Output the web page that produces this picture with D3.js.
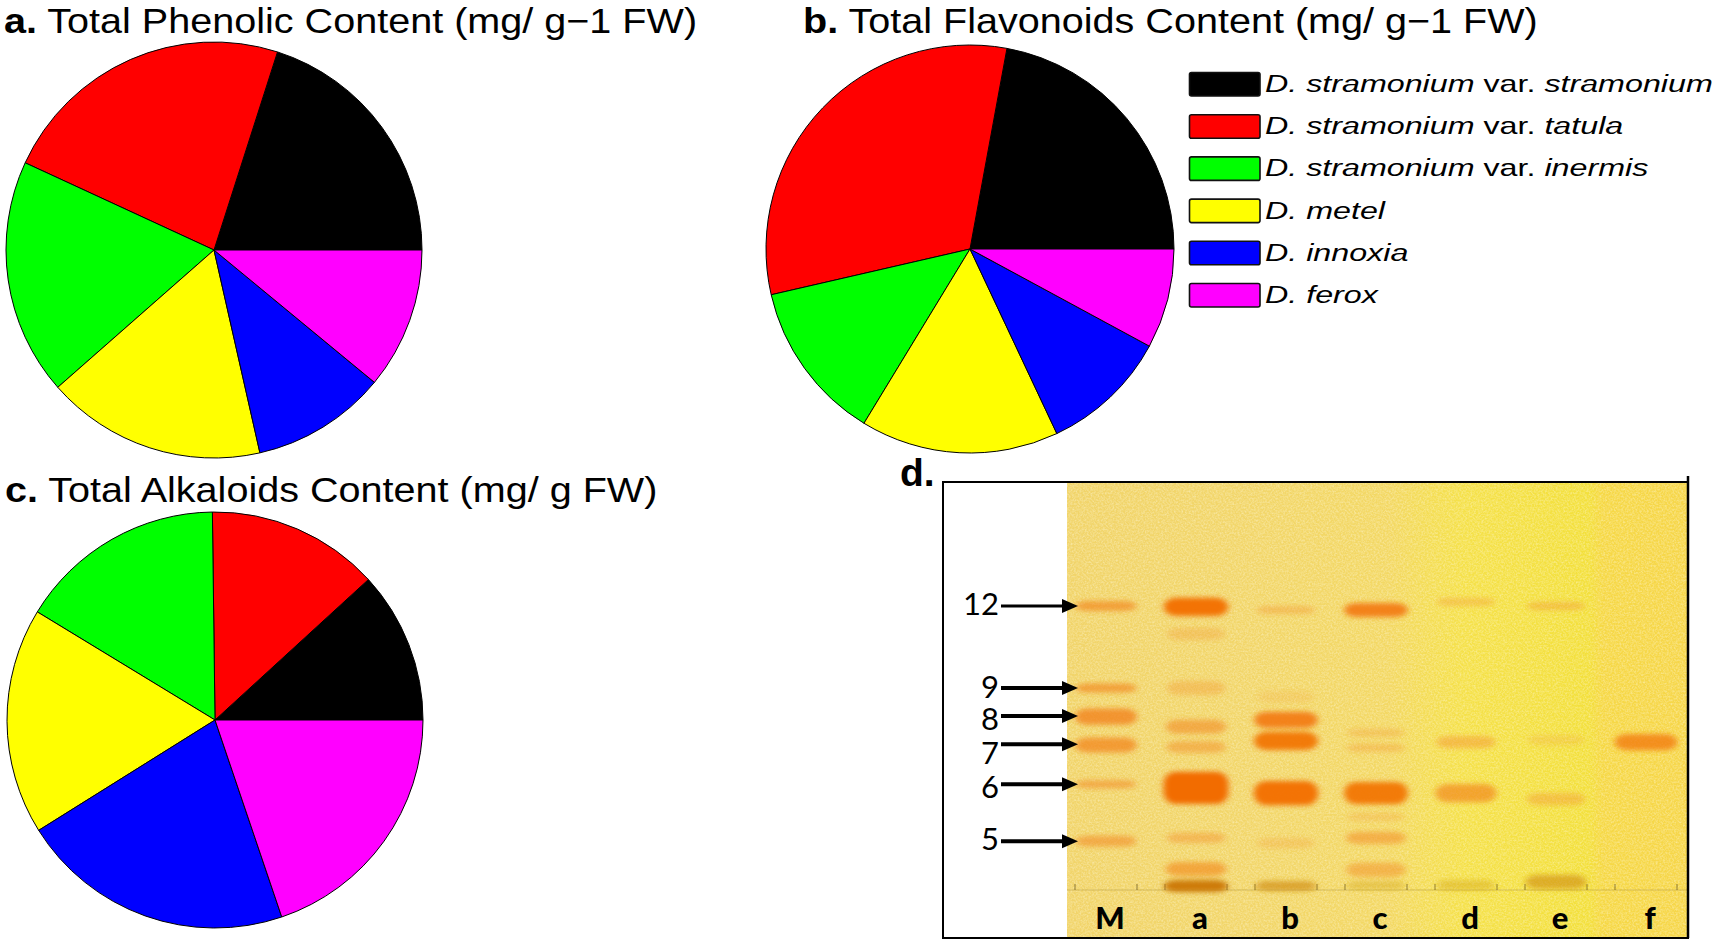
<!DOCTYPE html>
<html>
<head>
<meta charset="utf-8">
<script src="https://cdn.jsdelivr.net/npm/d3@7"></script>
<style>
  body { margin: 0; background: #fff; }
  svg { display: block; }
</style>
</head>
<body>
<div id="chart"></div>
<script>
// Species (legend order = slice order)
const species = [
  "D. stramonium var. stramonium",
  "D. stramonium var. tatula",
  "D. stramonium var. inermis",
  "D. metel",
  "D. innoxia",
  "D. ferox"
];
const sliceColors = ["#000000", "#ff0000", "#00ff00", "#ffff00", "#0000ff", "#ff00ff"];

// Share of each species in the pie (%)
const phenolicShare  = [20.1, 23.1, 18.4, 17.1, 10.5, 11.0];
const flavonoidShare = [22.1, 31.5, 12.7, 15.7, 10.1, 7.9];
const alkaloidShare  = [11.8, 13.4, 16.1, 17.6, 21.3, 19.8];

// TLC plate (panel d)
const lanes = ["M", "a", "b", "c", "d", "e", "f"];
const markerLabels = ["12", "9", "8", "7", "6", "5"];
const markerRf = [0.698, 0.495, 0.426, 0.356, 0.257, 0.116];

// bands per lane: [Rf, strength 0-1, spread in Rf]
const bandsM = [[0.698, 0.6, 0.025], [0.495, 0.6, 0.022], [0.424, 0.7, 0.04], [0.354, 0.65, 0.037], [0.257, 0.5, 0.02], [0.116, 0.5, 0.027]];
const bandsA = [[0.696, 0.95, 0.045], [0.629, 0.2, 0.03], [0.495, 0.25, 0.035], [0.399, 0.5, 0.035], [0.349, 0.4, 0.03], [0.248, 1.0, 0.08], [0.124, 0.35, 0.025], [0.047, 0.55, 0.035], [0.005, 0.9, 0.03]];
const bandsB = [[0.688, 0.3, 0.02], [0.473, 0.05, 0.03], [0.416, 0.85, 0.04], [0.364, 0.9, 0.045], [0.235, 0.95, 0.06], [0.111, 0.15, 0.025], [0.005, 0.6, 0.025]];
const bandsC = [[0.688, 0.85, 0.035], [0.384, 0.2, 0.02], [0.347, 0.25, 0.02], [0.235, 0.9, 0.055], [0.176, 0.15, 0.02], [0.124, 0.45, 0.03], [0.045, 0.4, 0.035], [0.007, 0.3, 0.02]];
const bandsD = [[0.708, 0.25, 0.02], [0.361, 0.35, 0.03], [0.235, 0.6, 0.045], [0.007, 0.3, 0.025]];
const bandsE = [[0.698, 0.3, 0.02], [0.366, 0.08, 0.025], [0.220, 0.3, 0.03], [0.015, 0.55, 0.035]];
const bandsF = [[0.361, 0.75, 0.04]];

const W = 1713, H = 950;
const sans = "'Liberation Sans', Arial, sans-serif";
const calib = "Lato, 'Open Sans', sans-serif";

const svg = d3.select("#chart")
  .append("svg")
    .attr("width", W)
    .attr("height", H);

const defs = svg.append("defs");

const color = d3.scaleOrdinal()
  .domain(species)
  .range(sliceColors);

// pies start at 3 o'clock and run counter-clockwise
const pie = d3.pie()
  .sort(null)
  .value(d => d)
  .startAngle(Math.PI / 2)
  .endAngle(Math.PI / 2 - 2 * Math.PI);

function drawPie(values, cx, cy, r) {
  const arc = d3.arc().innerRadius(0).outerRadius(r);
  svg.append("g")
      .attr("transform", `translate(${cx},${cy})`)
    .selectAll("path")
    .data(pie(values))
    .enter().append("path")
      .attr("d", arc)
      .attr("fill", (d, i) => color(species[i]))
      .attr("stroke", "#000")
      .attr("stroke-width", 1)
      .attr("stroke-linejoin", "round");
}

// the panel titles are slightly stretched sideways in the original figure
function drawTitle(x, y, tag, rest) {
  const t = svg.append("g")
      .attr("transform", `translate(${x},${y}) scale(1.115,1)`)
    .append("text")
      .style("font-family", sans)
      .style("font-size", "35.5px")
      .attr("fill", "#000");
  t.append("tspan").style("font-weight", "bold").text(tag);
  t.append("tspan").text(" " + rest);
}

drawTitle(4, 32.5, "a.", "Total Phenolic Content (mg/ g\u22121 FW)");
drawTitle(803, 32.5, "b.", "Total Flavonoids Content (mg/ g\u22121 FW)");
drawTitle(5, 502, "c.", "Total Alkaloids Content (mg/ g FW)");

drawPie(phenolicShare, 214, 250, 208);
drawPie(flavonoidShare, 970, 249, 204);
drawPie(alkaloidShare, 215, 720, 208);

// Legend
const legend = svg.append("g");
const rowStep = 42.2;
species.forEach((name, i) => {
  const cy = 84 + i * rowStep;
  legend.append("rect")
    .attr("x", 1189.5)
    .attr("y", cy - 11.5)
    .attr("width", 70.5)
    .attr("height", 23.5)
    .attr("rx", 2)
    .attr("fill", color(name))
    .attr("stroke", "#111")
    .attr("stroke-width", 1.6);

  const parts = name.split(" var. ");
  const g = legend.append("g")
    .attr("transform", `translate(1265,${cy + 8}) scale(1.3,1)`);
  const t = g.append("text")
    .style("font-family", sans)
    .style("font-size", "24.8px")
    .attr("fill", "#000");
  t.append("tspan").style("font-style", "italic").text(parts[0]);
  if (parts.length > 1) {
    t.append("tspan").text(" var. ");
    t.append("tspan").style("font-style", "italic").text(parts[1]);
  }
});

// ---- Panel d: TLC plate ----
const plate = { x0: 1067, x1: 1687, y0: 483, y1: 937 };
const yRf = d3.scaleLinear().domain([0, 1]).range([888, 484]);
const xLane = d3.scalePoint().domain(lanes).range([1106, 1646]);

const grad = defs.append("linearGradient")
  .attr("id", "plateGrad")
  .attr("gradientUnits", "userSpaceOnUse")
  .attr("x1", plate.x0).attr("x2", plate.x1)
  .attr("y1", 0).attr("y2", 0);
[[0, "#f1d46a"], [0.3, "#f2d66a"], [0.52, "#f3d864"], [0.58, "#f4dd56"],
 [0.64, "#f5e14a"], [0.84, "#f3e03c"], [0.865, "#f6d846"], [1, "#f6d64a"]]
  .forEach(s => grad.append("stop").attr("offset", s[0]).attr("stop-color", s[1]));

const grain = defs.append("filter")
  .attr("id", "grain")
  .attr("x", 0).attr("y", 0).attr("width", 1).attr("height", 1);
grain.append("feTurbulence")
  .attr("type", "fractalNoise")
  .attr("baseFrequency", 0.55)
  .attr("numOctaves", 2)
  .attr("seed", 7);
grain.append("feColorMatrix")
  .attr("type", "matrix")
  .attr("values", "0 0 0 0 1  0 0 0 0 0.95  0 0 0 0 0.7  0.9 0 0 0 -0.32");

const blur = defs.append("filter")
  .attr("id", "bandBlur")
  .attr("x", "-50%").attr("y", "-150%")
  .attr("width", "200%").attr("height", "400%");
blur.append("feGaussianBlur").attr("stdDeviation", "3.4 2.8");

svg.append("rect")
  .attr("x", plate.x0).attr("y", plate.y0)
  .attr("width", plate.x1 - plate.x0).attr("height", plate.y1 - plate.y0)
  .attr("fill", "url(#plateGrad)");
svg.append("rect")
  .attr("x", plate.x0).attr("y", plate.y0)
  .attr("width", plate.x1 - plate.x0).attr("height", plate.y1 - plate.y0)
  .attr("fill", "#fff")
  .attr("filter", "url(#grain)");

// origin line and spotting marks
svg.append("line")
  .attr("x1", plate.x0).attr("x2", plate.x1)
  .attr("y1", yRf(0) + 2).attr("y2", yRf(0) + 2)
  .attr("stroke", "#b49a40").attr("stroke-opacity", 0.35).attr("stroke-width", 1.5);

const markG = svg.append("g");
lanes.forEach(l => {
  [-31, 31].forEach(dx => {
    markG.append("line")
      .attr("x1", xLane(l) + dx).attr("x2", xLane(l) + dx)
      .attr("y1", yRf(0) - 4).attr("y2", yRf(0) + 2)
      .attr("stroke", "#6b5a20").attr("stroke-opacity", 0.5).attr("stroke-width", 1.5);
  });
});

const allBands = [];
[bandsM, bandsA, bandsB, bandsC, bandsD, bandsE, bandsF].forEach((arr, li) => {
  arr.forEach(b => allBands.push({ lane: lanes[li], rf: b[0], s: b[1], spread: b[2] }));
});

const bandFill = d3.interpolateRgb("#f2b04a", "#f26c00");
const originFill = d3.interpolateRgb("#dcc226", "#c86a00");

svg.append("g")
    .attr("filter", "url(#bandBlur)")
  .selectAll("rect")
  .data(allBands)
  .enter().append("rect")
    .attr("x", d => xLane(d.lane) - xLane.step() * (0.31 + 0.05 * d.s))
    .attr("width", d => xLane.step() * (0.62 + 0.1 * d.s))
    .attr("y", d => yRf(d.rf) - (yRf(0) - yRf(d.spread)) / 2)
    .attr("height", d => yRf(0) - yRf(d.spread))
    .attr("rx", 12)
    .attr("fill", d => d.rf < 0.02 ? originFill(d.s) : bandFill(d.s))
    .attr("fill-opacity", d => 0.22 + 0.78 * d.s);

// lane labels
svg.append("g")
  .selectAll("text")
  .data(lanes)
  .enter().append("text")
    .attr("x", d => xLane(d) + 4)
    .attr("y", 929)
    .attr("text-anchor", "middle")
    .style("font-family", calib)
    .style("font-weight", "900")
    .style("font-size", "31px")
    .attr("fill", "#000")
    .text(d => d);

// marker arrows; labels sit a little below their arrows as in the original
const labelDrop = [9, 10, 14, 20, 14, 9];
const arrows = svg.append("g");
markerRf.forEach((rf, i) => {
  const y = yRf(rf);
  arrows.append("line")
    .attr("x1", 1001).attr("x2", 1064)
    .attr("y1", y).attr("y2", y)
    .attr("stroke", "#000")
    .attr("stroke-width", i === 0 ? 3 : 4);
  arrows.append("path")
    .attr("d", `M1062,${y - 7}L1078,${y}L1062,${y + 7}Z`)
    .attr("fill", "#000");
  arrows.append("text")
    .attr("x", 999)
    .attr("y", y + labelDrop[i])
    .attr("text-anchor", "end")
    .style("font-family", calib)
    .style("font-size", "31px")
    .attr("fill", "#000")
    .text(markerLabels[i]);
});

// frame
svg.append("rect")
  .attr("x", 943).attr("y", 482)
  .attr("width", 745).attr("height", 456)
  .attr("fill", "none")
  .attr("stroke", "#000")
  .attr("stroke-width", 2);
svg.append("line")
  .attr("x1", 1688).attr("x2", 1688)
  .attr("y1", 476).attr("y2", 938)
  .attr("stroke", "#000").attr("stroke-width", 2.5);

svg.append("text")
  .attr("x", 900)
  .attr("y", 486)
  .style("font-family", sans)
  .style("font-weight", "bold")
  .style("font-size", "39px")
  .attr("fill", "#000")
  .text("d.");
</script>
</body>
</html>
